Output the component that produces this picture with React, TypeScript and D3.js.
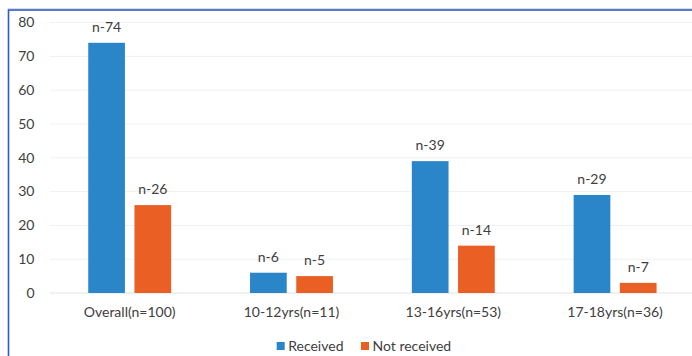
import React from "react";
import * as d3 from "d3";

const categories = ["Overall(n=100)", "10-12yrs(n=11)", "13-16yrs(n=53)", "17-18yrs(n=36)"];
const series = ["Received", "Not received"];
const receivedValues = [74, 6, 39, 29];
const notReceivedValues = [26, 5, 14, 3];
const receivedLabels = ["n-74", "n-6", "n-39", "n-29"];
const notReceivedLabels = ["n-26", "n-5", "n-14", "n-7"];
const yTicks = [0, 10, 20, 30, 40, 50, 60, 70, 80];
const colors = ["#2a86c9", "#e95f24"];

const W = 692;
const H = 356;
const FONT = "Lato, 'Open Sans', sans-serif";
const TEXT = "#404040";

export default function App() {
  const x0 = d3.scaleBand<string>().domain(categories).range([48.8, 696]).padding(0);
  const x1 = d3
    .scaleBand<string>()
    .domain(series)
    .range([0, x0.bandwidth()])
    .paddingInner(0.206)
    .paddingOuter(0.853);
  const y = d3.scaleLinear().domain([0, 80]).range([293, 22.5]);

  const vals = [receivedValues, notReceivedValues];
  const labs = [receivedLabels, notReceivedLabels];

  return (
    <svg
      width={W}
      height={H}
      style={{ position: "absolute", left: 0, top: 0, background: "#fff" }}
      fontFamily={FONT}
    >
      <rect x={0} y={0} width={W} height={H} fill="#fff" />
      <line x1={8} x2={W} y1={8.5} y2={8.5} stroke="#d8dce6" strokeWidth={1} />
      <rect x={8.5} y={10} width={W + 10} height={H + 10} fill="none" stroke="#2f5cbf" strokeWidth={1.6} />
      {yTicks.map((t) => (
        <g key={t}>
          <line x1={50} x2={W} y1={y(t)} y2={y(t)} stroke={t === 0 ? "#e2e2e2" : "#f0f0f0"} strokeWidth={1} />
          <text x={34.5} y={y(t)} dy="0.35em" textAnchor="end" fontSize={14} fill={TEXT}>
            {t}
          </text>
        </g>
      ))}
      {categories.map((c, i) => (
        <g key={c} transform={`translate(${x0(c)},0)`}>
          {series.map((s, j) => (
            <g key={s}>
              <rect
                x={x1(s)}
                y={y(vals[j][i])}
                width={x1.bandwidth()}
                height={y(0) - y(vals[j][i])}
                fill={colors[j]}
              />
              <text
                x={(x1(s) as number) + x1.bandwidth() / 2}
                y={y(vals[j][i]) - 11}
                textAnchor="middle"
                fontSize={14}
                fill={TEXT}
              >
                {labs[j][i]}
              </text>
            </g>
          ))}
          <text x={x0.bandwidth() / 2} y={317} textAnchor="middle" fontSize={14} fill={TEXT}>
            {c}
          </text>
        </g>
      ))}
      {series.map((s, j) => {
        const lx = [276.7, 361][j];
        return (
          <g key={s}>
            <rect x={lx} y={342} width={8} height={8} fill={colors[j]} />
            <text x={lx + 11.5} y={351} fontSize={14} fill={TEXT}>
              {s}
            </text>
          </g>
        );
      })}
    </svg>
  );
}
